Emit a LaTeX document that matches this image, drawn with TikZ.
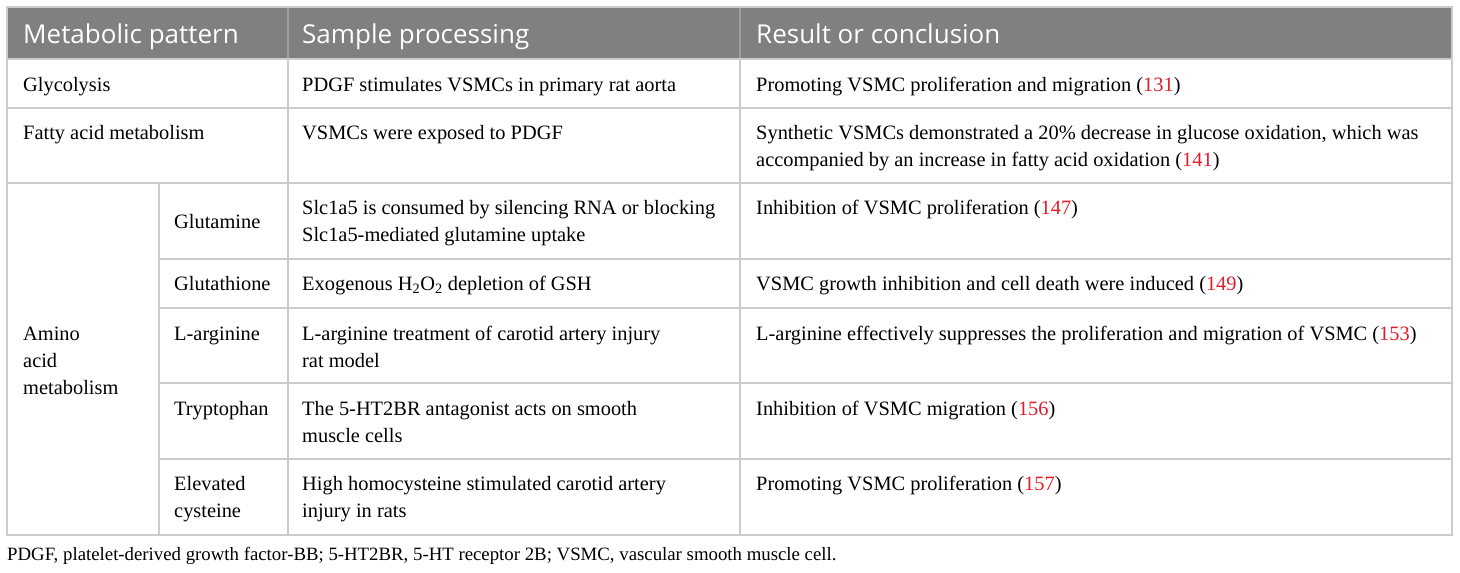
\documentclass[tikz,border=0pt]{standalone}
\usepackage{fontspec}
\setmainfont{Liberation Serif}
\newfontfamily\headfont{Open Sans}
\definecolor{headgray}{RGB}{128,128,128}
\definecolor{headrule}{RGB}{158,158,158}
\definecolor{gridgray}{RGB}{204,204,204}
\definecolor{refred}{RGB}{226,30,40}
\newcommand{\refnum}[1]{(\textcolor{refred}{#1})}

\begin{document}
\begin{tikzpicture}[
		x=1pt, y=-1pt,
		every node/.style={
			inner sep=0pt,
			anchor=base west,
			align=left,
			font=\fontsize{20.4}{27}\selectfont
		},
		head/.style={
			font=\headfont\fontsize{26}{30}\selectfont,
			text=white
		},
		note/.style={
			font=\fontsize{18.8}{22}\selectfont
		},
		grid/.style={
			draw=gridgray,
			line width=1.3pt
		}
		]
		\useasboundingbox (0,0) rectangle (1460,573);
		
		% header band
		\fill[headgray] (7,7) rectangle (1452,59);
		\foreach \x in {288,740}
			\draw[headrule, line width=1.3pt] (\x,7) -- (\x,59);
		
		% rules
		\draw[grid] (7,7) rectangle (1452,535);
		\foreach \y in {59,108,183}
			\draw[grid] (7,\y) -- (1452,\y);
		\foreach \y in {259,308,383,459}
			\draw[grid] (159,\y) -- (1452,\y);
		\foreach \x in {288,740}
			\draw[grid] (\x,59) -- (\x,535);
		\draw[grid] (159,183) -- (159,535);
		
		% multi-line cells sit on their last baseline
		\node[head] (pattern) at (23,43) {Metabolic pattern};
		\node[head] (sample) at (302,43) {Sample processing};
		\node[head] (result) at (756,43) {Result or conclusion};
		
		\node (gly) at (23,91) {Glycolysis};
		\node (glyS) at (302,91) {PDGF stimulates VSMCs in primary rat aorta};
		\node (glyR) at (756,91) {Promoting VSMC proliferation and migration \refnum{131}};
		
		\node (fat) at (23,139) {Fatty acid metabolism};
		\node (fatS) at (302,139) {VSMCs were exposed to PDGF};
		\node (fatR) at (756,166) {Synthetic VSMCs demonstrated a 20\% decrease in glucose oxidation, which was\\accompanied by an increase in fatty acid oxidation \refnum{141}};
		
		\node (amino) at (23,394) {Amino\\acid\\metabolism};
		
		\node (gln) at (174,228) {Glutamine};
		\node (glnS) at (302,241) {Slc1a5 is consumed by silencing RNA or blocking\\Slc1a5-mediated glutamine uptake};
		\node (glnR) at (756,214) {Inhibition of VSMC proliferation \refnum{147}};
		
		\node (gsh) at (174,290) {Glutathione};
		\node (gshS) at (302,290) {Exogenous H\textsubscript{2}O\textsubscript{2} depletion of GSH};
		\node (gshR) at (756,290) {VSMC growth inhibition and cell death were induced \refnum{149}};
		
		\node (arg) at (174,340) {L-arginine};
		\node (argS) at (302,367) {L-arginine treatment of carotid artery injury\\rat model};
		\node (argR) at (756,340) {L-arginine effectively suppresses the proliferation and migration of VSMC \refnum{153}};
		
		\node (trp) at (174,415) {Tryptophan};
		\node (trpS) at (302,442) {The 5-HT2BR antagonist acts on smooth\\muscle cells};
		\node (trpR) at (756,415) {Inhibition of VSMC migration \refnum{156}};
		
		\node (cys) at (174,517) {Elevated\\cysteine};
		\node (cysS) at (302,517) {High homocysteine stimulated carotid artery\\injury in rats};
		\node (cysR) at (756,490) {Promoting VSMC proliferation \refnum{157}};
		
		\node[note] (foot) at (7,560) {PDGF, platelet-derived growth factor-BB; 5-HT2BR, 5-HT receptor 2B; VSMC, vascular smooth muscle cell.};
	\end{tikzpicture}
\end{document}
